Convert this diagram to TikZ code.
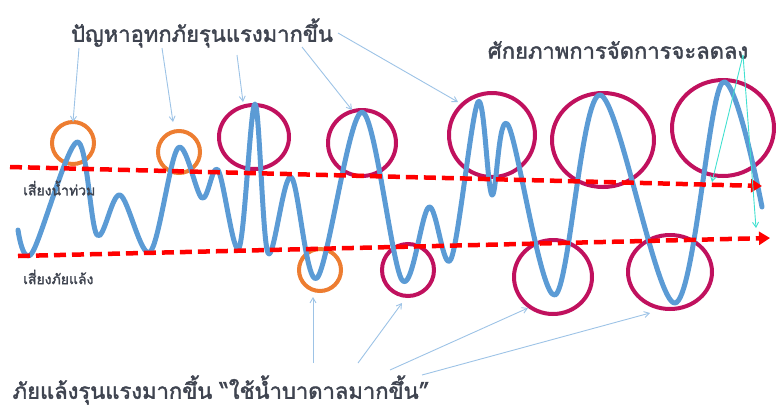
\documentclass[tikz,border=0pt]{standalone}
\usepackage{fontspec}
\newfontfamily\thaifont[Script=Thai,AutoFakeBold=1.8]{Loma}
\usetikzlibrary{shapes.geometric,arrows.meta}
\definecolor{wave}{HTML}{5B9BD5}
\definecolor{ring}{HTML}{C0115E}
\definecolor{oring}{HTML}{ED7D31}
\definecolor{txt}{HTML}{3F4450}
\definecolor{lblue}{HTML}{9DC3E6}
\definecolor{tq}{HTML}{40E0D0}
\begin{document}
\begin{tikzpicture}[x=1pt,y=-1pt,
  bigring/.style={draw=ring,line width=4pt,ellipse,inner sep=0pt},
  smallring/.style={draw=oring,line width=4pt,circle,inner sep=0pt,minimum size=42pt},
  title/.style={text=txt,font=\thaifont\bfseries\fontsize{22}{26}\selectfont,inner sep=0pt},
  lbl/.style={text=txt,font=\thaifont\bfseries\fontsize{14}{16}\selectfont,inner sep=0pt,anchor=west},
  risk/.style={draw=red,line width=4.5pt,dash pattern=on 12pt off 6pt,-{Triangle[length=11pt,width=13pt]}},
  pointer/.style={draw=lblue,line width=0.9pt,-{Straight Barb[length=5pt,width=6pt]}},
  tqpointer/.style={draw=tq,line width=0.9pt,-{Straight Barb[length=5pt,width=6pt]}}]
\useasboundingbox (0,0) rectangle (777,408);
% rings
\node[smallring] (o1) at (73,143) {};
\node[smallring] (o2) at (179,152) {};
\node[smallring] (o3) at (320,270) {};
\node[bigring,minimum width=70pt,minimum height=64pt] (m1) at (254,137) {};
\node[bigring,minimum width=68pt,minimum height=66pt] (m2) at (362,143) {};
\node[bigring,minimum width=52pt,minimum height=52pt] (m3) at (408,270) {};
\node[bigring,minimum width=86pt,minimum height=84pt] (m4) at (492,135) {};
\node[bigring,minimum width=102pt,minimum height=94pt] (m5) at (603,140) {};
\node[bigring,minimum width=102pt,minimum height=96pt] (m6) at (723,128) {};
\node[bigring,minimum width=78pt,minimum height=74pt] (m7) at (553,277) {};
\node[bigring,minimum width=84pt,minimum height=74pt] (m8) at (670,272) {};
% wave
\draw[wave,line width=5pt,line cap=round,line join=round] plot[smooth,tension=0.55] coordinates {
(18,230) (32,253) (77,142) (97,235) (120,195) (150,252) (178,148) (202,198) (218,170) (239,248)
(255,104) (268,253) (291,177) (317,278) (362,112) (402,280) (429,207) (451,259) (478,102) (492,195)
(508,125) (555,295) (600,95) (675,303) (722,83) (762,207)};
% risk lines
\coordinate (f0) at (10,167); \coordinate (f1) at (762,186);
\coordinate (d0) at (18,256); \coordinate (d1) at (770,238);
\draw[risk] (f0) -- (f1);
\draw[risk] (d0) -- (d1);
% labels
\node[lbl] (lf) at (23,188) {เสี่ยงน้ำท่วม};
\node[lbl] (ld) at (23,277) {เสี่ยงภัยแล้ง};
\node[title] (t1) at (202,33) {ปัญหาอุทกภัยรุนแรงมากขึ้น};
\node[title] (t2) at (618,50) {ศักยภาพการจัดการจะลดลง};
\node[title] (t3) at (221,390) {ภัยแล้งรุนแรงมากขึ้น “ใช้น้ำบาดาลมากขึ้น”};
% pointers from top title
\coordinate (a1) at (79,48); \coordinate (a2) at (162,48); \coordinate (a3) at (237,55);
\coordinate (a4) at (302,47); \coordinate (a5) at (338,33);
\coordinate (e1) at (73,122); \coordinate (e2) at (173,122); \coordinate (e3) at (243,102);
\coordinate (e4) at (352,110); \coordinate (e5) at (458,102);
\draw[pointer] (a1) -- (e1);
\draw[pointer] (a2) -- (e2);
\draw[pointer] (a3) -- (e3);
\draw[pointer] (a4) -- (e4);
\draw[pointer] (a5) -- (e5);
% pointers from capacity title
\coordinate (c0) at (743,55); \coordinate (c1) at (712,182); \coordinate (c2) at (756,228);
\draw[tqpointer] (c0) -- (c1);
\draw[tqpointer] (c0) -- (c2);
% pointers from bottom title
\coordinate (b1) at (313,363); \coordinate (b2) at (358,363); \coordinate (b3) at (390,370); \coordinate (b4) at (422,375);
\coordinate (g1) at (313,297); \coordinate (g2) at (402,303); \coordinate (g3) at (528,308); \coordinate (g4) at (650,313);
\draw[pointer] (b1) -- (g1);
\draw[pointer] (b2) -- (g2);
\draw[pointer] (b3) -- (g3);
\draw[pointer] (b4) -- (g4);
\end{tikzpicture}
\end{document}
